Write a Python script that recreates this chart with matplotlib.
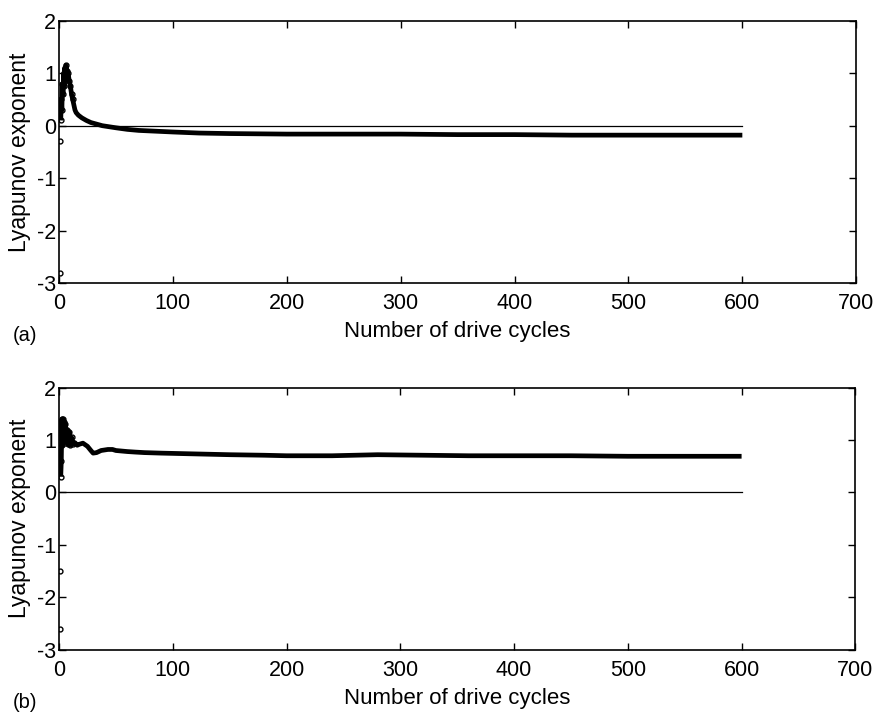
import matplotlib
matplotlib.use("Agg")
import matplotlib.pyplot as plt

plt.rcParams["font.family"] = ["Liberation Sans", "DejaVu Sans"]
plt.rcParams["axes.unicode_minus"] = False

# Running Lyapunov exponent estimate vs. number of drive cycles
cycles_a = [0.5, 1, 1.5, 2, 2.5, 3, 3.5, 4, 4.5, 5, 5.5, 6, 7, 8, 9, 10, 11, 12, 13,
            14, 15, 17, 20, 24, 28, 33, 38, 44, 50, 60, 70, 80, 100, 123, 150, 200,
            250, 300, 350, 400, 450, 500, 550, 600]
lyap_a = [-2.8, -0.3, 0.1, 0.5, 0.3, 0.8, 0.6, 1.0, 0.75, 1.1, 0.9, 1.15, 1.05, 1.0,
          0.85, 0.75, 0.6, 0.5, 0.4, 0.3, 0.25, 0.2, 0.15, 0.1, 0.06, 0.03, 0.0,
          -0.02, -0.04, -0.07, -0.09, -0.1, -0.12, -0.14, -0.15, -0.16, -0.16,
          -0.16, -0.17, -0.17, -0.18, -0.18, -0.18, -0.18]

cycles_b = [0.5, 1, 1.5, 2, 2.5, 3, 3.5, 4, 4.5, 5, 5.5, 6, 7, 8, 9, 10, 11, 12, 14,
            16, 18, 21, 25, 28, 30, 33, 37, 40, 43, 47, 50, 55, 60, 67, 75, 90, 110,
            130, 150, 180, 200, 240, 280, 320, 360, 400, 450, 500, 550, 600]
lyap_b = [-2.6, -1.5, 0.3, 0.6, 1.4, 0.9, 1.4, 1.0, 1.35, 0.95, 1.3, 1.0, 1.2, 0.92,
          1.15, 0.9, 1.05, 0.92, 0.95, 0.9, 0.92, 0.94, 0.88, 0.8, 0.75, 0.76, 0.8,
          0.81, 0.82, 0.82, 0.8, 0.79, 0.78, 0.77, 0.76, 0.75, 0.74, 0.73, 0.72,
          0.71, 0.7, 0.7, 0.72, 0.71, 0.7, 0.7, 0.7, 0.69, 0.69, 0.69]

x_ticks = [0, 100, 200, 300, 400, 500, 600, 700]
y_ticks = [-3, -2, -1, 0, 1, 2]
panel_tags = ["(a)", "(b)"]

fig = plt.figure(figsize=(8.77, 7.15), dpi=100)
ax_a = fig.add_axes([0.0673, 0.604, 0.909, 0.367])
ax_b = fig.add_axes([0.0673, 0.091, 0.908, 0.367])


def draw_panel(ax, xs, ys, tag):
    ax.axhline(0, color="black", linewidth=0.9, xmin=0, xmax=600 / 700)
    # early scattered points drawn as small open circles
    n_early = sum(1 for v in xs if v <= 12)
    ax.plot(xs[:n_early], ys[:n_early], linestyle="none", marker="o",
            markersize=3.5, markerfacecolor="white", markeredgecolor="black",
            markeredgewidth=1.0)
    ax.plot(xs[2:], ys[2:], color="black", linewidth=3.4, solid_capstyle="butt")
    ax.set_xlim(0, 700)
    ax.set_ylim(-3, 2)
    ax.set_xticks(x_ticks)
    ax.set_yticks(y_ticks)
    ax.tick_params(direction="in", top=True, right=True, length=5, width=1,
                   labelsize=15.5)
    ax.tick_params(axis="x", pad=7)
    ax.tick_params(axis="y", pad=2)
    for sp in ax.spines.values():
        sp.set_linewidth(1.2)
    ax.set_xlabel("Number of drive cycles", fontsize=16, labelpad=5)
    ax.set_ylabel("Lyapunov exponent", fontsize=16.5, labelpad=4)
    ax.text(-0.058, -0.2, tag, transform=ax.transAxes, fontsize=14.5,
            ha="left", va="center")


draw_panel(ax_a, cycles_a, lyap_a, panel_tags[0])
draw_panel(ax_b, cycles_b, lyap_b, panel_tags[1])

fig.savefig("out.png", dpi=100)
